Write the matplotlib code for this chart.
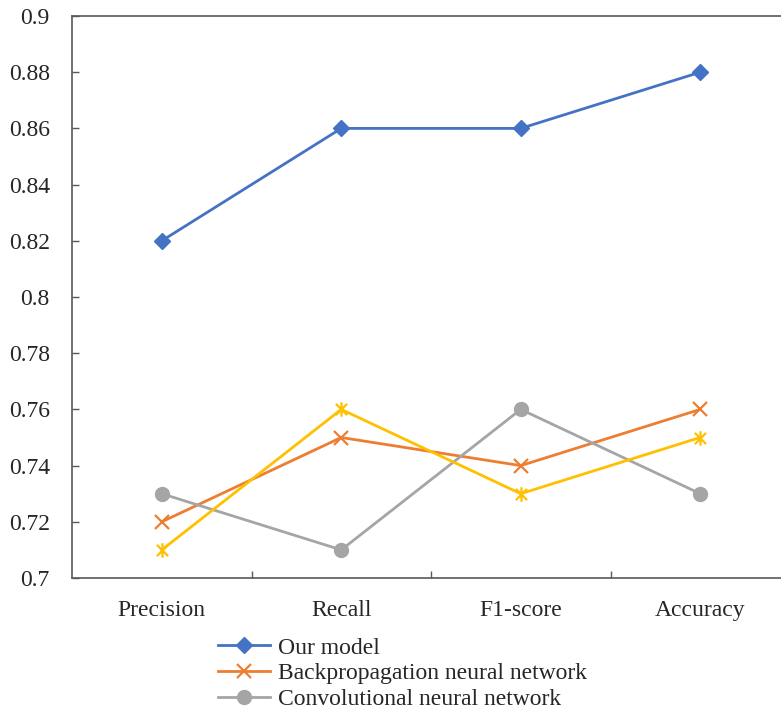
import matplotlib.pyplot as plt
import numpy as np
from matplotlib.path import Path

plt.rcParams['font.family'] = ['Liberation Serif', 'DejaVu Serif']

metrics = ['Precision', 'Recall', 'F1-score', 'Accuracy']
our_model = [0.82, 0.86, 0.86, 0.88]
backprop = [0.72, 0.75, 0.74, 0.76]
cnn = [0.73, 0.71, 0.76, 0.73]
other_net = [0.71, 0.76, 0.73, 0.75]

# asterisk marker: an x with a vertical bar through it
star = Path([(-1, -1), (1, 1), (-1, 1), (1, -1), (0, -1.3), (0, 1.3)],
            [Path.MOVETO, Path.LINETO, Path.MOVETO, Path.LINETO, Path.MOVETO, Path.LINETO])

fig = plt.figure(figsize=(7.81, 7.16), dpi=100)
ax = fig.add_axes([72 / 781, 1 - 578 / 716, 718 / 781, 562 / 716])

x = np.arange(len(metrics))
ax.plot(x, our_model, color='#4472C4', lw=2, marker='D', ms=8, label='Our model')
ax.plot(x, backprop, color='#ED7D31', lw=2, marker='x', ms=9.5, mew=1.6,
        label='Backpropagation neural network')
ax.plot(x, cnn, color='#A5A5A5', lw=2, marker='o', ms=10, label='Convolutional neural network')
ax.plot(x, other_net, color='#FFC000', lw=2, marker=star, ms=10.5, mew=1.6)

ax.set_xlim(-0.5, 3.5)
ax.set_ylim(0.7, 0.9)
ax.set_yticks(np.arange(0.70, 0.901, 0.02))
ax.set_yticklabels(['0.7', '0.72', '0.74', '0.76', '0.78', '0.8', '0.82', '0.84', '0.86', '0.88', '0.9'])
ax.set_xticks([0.5, 1.5, 2.5])
ax.set_xticklabels([])
ax.set_xticks(x, minor=True)
ax.set_xticklabels(metrics, minor=True)

ax.tick_params(axis='y', direction='in', length=5, width=1, color='#595959',
               labelsize=17, pad=16, labelcolor='#262626')
ax.tick_params(axis='x', which='major', direction='in', length=5, width=1, color='#595959')
ax.tick_params(axis='x', which='minor', length=0, labelsize=17, pad=16, labelcolor='#262626')

for side in ['left', 'bottom', 'top', 'right']:
    ax.spines[side].set_color('#595959')
    ax.spines[side].set_linewidth(1.2)

leg = fig.legend(loc='upper left', bbox_to_anchor=(218 / 781, 1 - 637 / 716), frameon=False,
                 fontsize=17, handlelength=2.2, handletextpad=0.34, labelspacing=0.18,
                 borderpad=0, borderaxespad=0)
for t in leg.get_texts():
    t.set_color('#262626')

fig.savefig('out.png', dpi=100)
